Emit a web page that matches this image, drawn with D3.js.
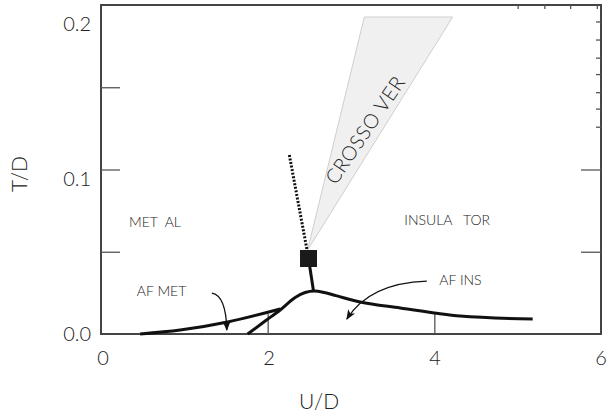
<!DOCTYPE html>
<html>
<head>
<meta charset="utf-8">
<script src="https://cdn.jsdelivr.net/npm/d3@7"></script>
<style>
  body { margin: 0; background: #fff; }
  text { font-family: Lato, "Open Sans", sans-serif; font-weight: 300; fill: #222; }
</style>
</head>
<body>
<svg width="608" height="415"></svg>
<script>
// data (U/D, T/D)
const afMetLine = [[0.47, 0], [0.95, 0.0024], [1.52, 0.0073], [2.15, 0.0152]];
const boundaryLine = [
  [1.76, 0], [1.97, 0.0079], [2.15, 0.0146], [2.33, 0.0222], [2.45, 0.0252],
  [2.56, 0.0261], [2.68, 0.0252], [2.82, 0.0233], [3.11, 0.0195], [3.59, 0.0158],
  [4.0, 0.0128], [4.31, 0.0109], [5.18, 0.0091]
];
const criticalPoint = [2.49, 0.0459];
const stemLine = [[2.49, 0.0459], [2.55, 0.0261]];
const dottedLine = [[2.47, 0.0517], [2.26, 0.1088]];
const crossoverWedge = [[2.48, 0.0511], [3.16, 0.1927], [4.22, 0.1927]];

const xTickLabels = [0, 2, 4, 6];
const yTickLabels = [0, 0.1, 0.2];
const xInnerTicks = [2, 4];
const yInnerTicksLeft = [0.05, 0.1, 0.15];
const yInnerTicksRight = [0.05, 0.1];
const topSmallTicks = [5.0, 5.32, 5.63, 5.95];
const rightSmallTicks = [0.19, 0.179, 0.168, 0.158, 0.147, 0.137, 0.126];

const labels = [
  { text: 'MET  AL', x: 0.336, y: 0.068 },
  { text: 'INSULA   TOR', x: 3.64, y: 0.0693 },
  { text: 'AF MET', x: 0.43, y: 0.026 },
  { text: 'AF INS', x: 4.06, y: 0.0328 }
];
// arrows: start, control, end
const arrows = [
  [[1.33, 0.0249], [1.50, 0.0235], [1.51, 0.0024]],
  [[3.91, 0.0322], [3.22, 0.031], [2.95, 0.0091]]
];

const svg = d3.select('svg');
const x = d3.scaleLinear().domain([0, 6]).range([101, 601]);
const y = d3.scaleLinear().domain([0, 0.2]).range([334, 5]);
// tick labels sit a bit off their ticks in the original
const xLab = d3.scaleLinear().domain([0, 6]).range([103, 601]);
const yLab = d3.scaleLinear().domain([0, 0.2]).range([334, 24]);

// crossover wedge
svg.append('path')
  .datum(crossoverWedge)
  .attr('d', d3.line().x(d => x(d[0])).y(d => y(d[1])).curve(d3.curveLinearClosed))
  .attr('fill', '#f0f0f0')
  .attr('stroke', '#cfcfcf')
  .attr('stroke-width', 1);

svg.append('text')
  .attr('transform', `translate(${x(3.17)},${y(0.124)}) rotate(-56)`)
  .attr('text-anchor', 'middle')
  .attr('dy', '0.35em')
  .style('font-size', '20px')
  .style('letter-spacing', '0.5px')
  .style('white-space', 'pre')
  .text('CROSSO VER');

// frame
svg.append('rect')
  .attr('x', x(0)).attr('y', y(0.2))
  .attr('width', x(6) - x(0)).attr('height', y(0) - y(0.2))
  .attr('fill', 'none')
  .attr('stroke', '#444')
  .attr('stroke-width', 2);

// inner ticks
function styleTicks(g) {
  g.select('.domain').remove();
  g.selectAll('text').remove();
  g.selectAll('line').attr('stroke', '#555').attr('stroke-width', 1.3);
}
svg.append('g').attr('transform', `translate(0,${y(0)})`)
  .call(d3.axisTop(x).tickValues(xInnerTicks).tickSize(20)).call(styleTicks);
svg.append('g').attr('transform', `translate(${x(0)},0)`)
  .call(d3.axisRight(y).tickValues(yInnerTicksLeft).tickSize(19)).call(styleTicks);
svg.append('g').attr('transform', `translate(${x(6)},0)`)
  .call(d3.axisLeft(y).tickValues(yInnerTicksRight).tickSize(20)).call(styleTicks);
svg.append('g').attr('transform', `translate(0,${y(0.2)})`)
  .call(d3.axisBottom(x).tickValues(topSmallTicks).tickSize(4)).call(styleTicks);
svg.append('g').attr('transform', `translate(${x(6)},0)`)
  .call(d3.axisLeft(y).tickValues(rightSmallTicks).tickSize(5)).call(styleTicks);

// tick labels
svg.append('g').selectAll('text')
  .data(xTickLabels).enter().append('text')
  .attr('x', d => xLab(d))
  .attr('y', 358)
  .attr('dy', '0.35em')
  .attr('text-anchor', 'middle')
  .style('font-size', '20px')
  .text(d => d);
svg.append('g').selectAll('text')
  .data(yTickLabels).enter().append('text')
  .attr('x', 91)
  .attr('y', d => yLab(d))
  .attr('dy', '0.35em')
  .attr('text-anchor', 'end')
  .style('font-size', '20px')
  .text(d => d3.format('.1f')(d));

// axis titles
svg.append('text')
  .attr('x', 319).attr('y', 402).attr('dy', '0.35em')
  .attr('text-anchor', 'middle')
  .style('font-size', '21px')
  .text('U/D');
svg.append('text')
  .attr('transform', 'translate(20,174) rotate(-90)')
  .attr('dy', '0.35em')
  .attr('text-anchor', 'middle')
  .style('font-size', '21px')
  .text('T/D');

// curves
svg.append('path').datum(afMetLine)
  .attr('d', d3.line().x(d => x(d[0])).y(d => y(d[1])).curve(d3.curveMonotoneX))
  .attr('fill', 'none').attr('stroke', '#111').attr('stroke-width', 3);
svg.append('path').datum(boundaryLine)
  .attr('d', d3.line().x(d => x(d[0])).y(d => y(d[1])).curve(d3.curveMonotoneX))
  .attr('fill', 'none').attr('stroke', '#111').attr('stroke-width', 3);
svg.append('path').datum(stemLine)
  .attr('d', d3.line().x(d => x(d[0])).y(d => y(d[1])))
  .attr('fill', 'none').attr('stroke', '#111').attr('stroke-width', 3);
svg.append('path').datum(dottedLine)
  .attr('d', d3.line().x(d => x(d[0])).y(d => y(d[1])))
  .attr('fill', 'none').attr('stroke', '#111').attr('stroke-width', 3)
  .attr('stroke-dasharray', '2,1.6');

// critical point
svg.append('rect')
  .attr('x', x(criticalPoint[0]) - 8.5)
  .attr('y', y(criticalPoint[1]) - 8.5)
  .attr('width', 17).attr('height', 17)
  .attr('fill', '#1a1a1a');

// region labels
svg.append('g').selectAll('text')
  .data(labels).enter().append('text')
  .attr('x', d => x(d.x))
  .attr('y', d => y(d.y))
  .attr('dy', '0.35em')
  .style('font-size', '14px')
  .style('white-space', 'pre')
  .text(d => d.text);

// arrows
svg.append('defs').append('marker')
  .attr('id', 'head')
  .attr('viewBox', '0 0 10 10')
  .attr('refX', 9).attr('refY', 5)
  .attr('markerWidth', 10).attr('markerHeight', 10)
  .attr('markerUnits', 'userSpaceOnUse')
  .attr('orient', 'auto')
  .append('path')
  .attr('d', 'M0,1 L10,5 L0,9 L2.5,5 Z')
  .attr('fill', '#111');

svg.append('g').selectAll('path')
  .data(arrows).enter().append('path')
  .attr('d', d => {
    const p = d.map(q => [x(q[0]), y(q[1])]);
    return `M${p[0]}Q${p[1]} ${p[2]}`;
  })
  .attr('fill', 'none')
  .attr('stroke', '#111')
  .attr('stroke-width', 1.3)
  .attr('marker-end', 'url(#head)');
</script>
</body>
</html>
